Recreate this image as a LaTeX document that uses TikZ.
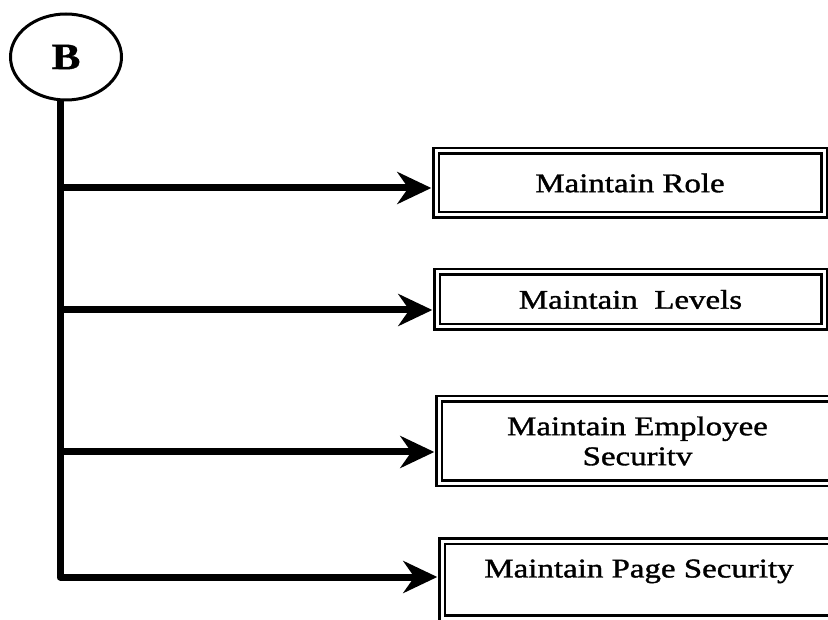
\documentclass[tikz,border=0pt]{standalone}
\usepackage{fontspec}
\setmainfont{Liberation Serif}
\newfontfamily\boxfont[FakeStretch=1.22,FakeBold=1.3]{Liberation Serif}
\newfontfamily\headfont[FakeStretch=1.17,FakeBold=1]{Liberation Serif}
\usetikzlibrary{arrows.meta,shapes.geometric,calc}

\tikzset{
  menubox/.style={draw, double, line width=2.4pt, double distance=3pt,
    inner sep=0pt, align=center,
    font=\boxfont\fontsize{27}{30}\selectfont},
  wire/.style={line width=7pt, line join=round},
  feed/.style={wire, -{Stealth[length=34pt,width=32pt,inset=11pt]}, shorten >=3.5pt},
  headnode/.style={draw, ellipse, line width=3pt, inner sep=0pt,
    minimum width=111pt, minimum height=86pt,
    font=\headfont\bfseries\fontsize{37}{37}\selectfont}
}

\begin{document}
\begin{tikzpicture}[x=1pt,y=-1pt]
  \useasboundingbox (0,0) rectangle (828,620);
  \clip (0,0) rectangle (828,620);
  \fill[white] (0,0) rectangle (828,620);

  % start point of the branch
  \node[headnode] (B) at (66,57) {B};

  % target boxes (sizes are border mid-lines)
  \node[menubox, minimum width=388pt, minimum height=64pt] (r1) at (630,183) {Maintain Role};
  \node[menubox, minimum width=387pt, minimum height=55pt] (r2) at (630.5,299.5) {Maintain\ \ Levels};
  \node[menubox, minimum width=397pt, minimum height=84pt] (r3) at (637.5,441) {Maintain Employee\\Securitv};
  \node[menubox, minimum width=394pt, minimum height=77pt, text depth=22pt] (r4) at (639,579.5) {Maintain Page Security};

  % junction points on the stem
  \path (B.south) ++(-6,0) coordinate (top);
  \coordinate (s1) at (60,188);
  \coordinate (s2) at (60,310);
  \coordinate (s3) at (60,452);
  \coordinate (s4) at (60,577);

  % stem ending in the last branch, and the other branches
  \draw[feed] (top) -- (s4) -- (s4 -| r4.west);
  \draw[feed] (s1) -- (s1 -| r1.west);
  \draw[feed] (s2) -- (s2 -| r2.west);
  \draw[feed] (s3) -- (s3 -| r3.west);
\end{tikzpicture}
\end{document}
